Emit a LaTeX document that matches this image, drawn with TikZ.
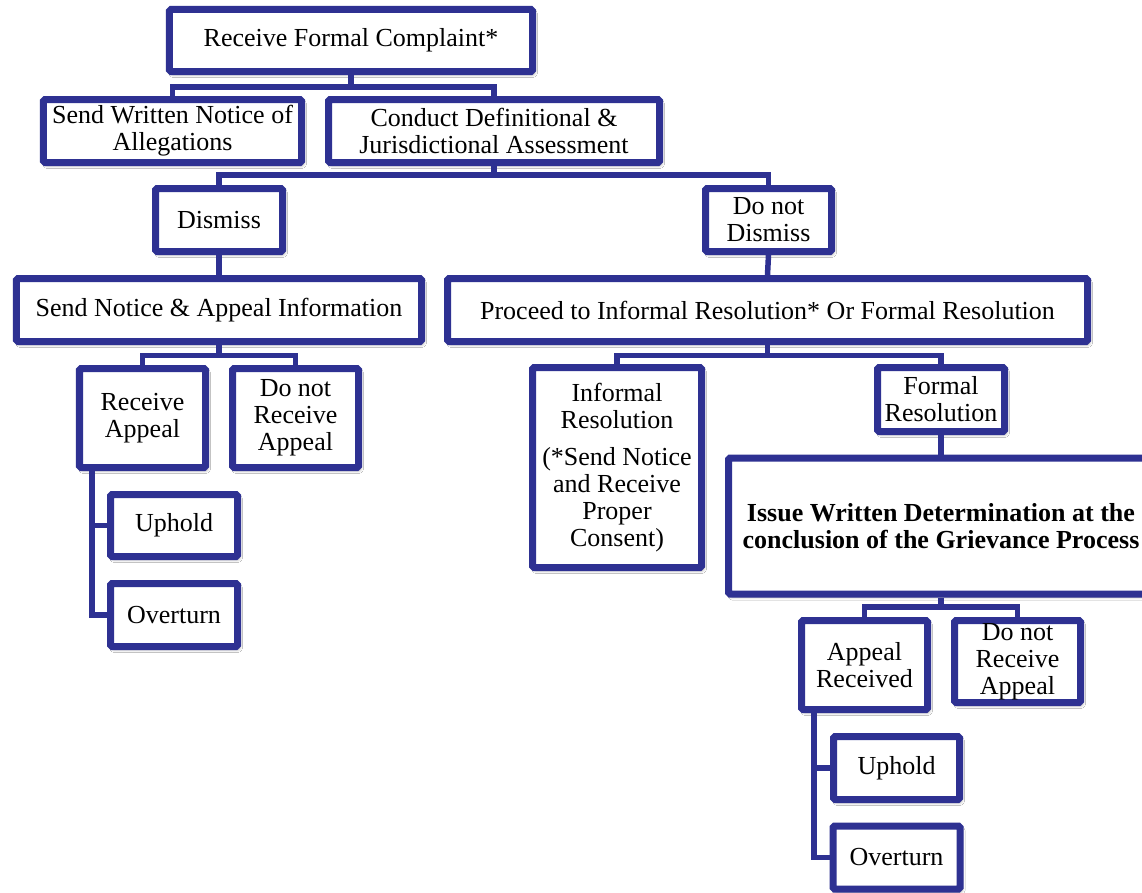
\documentclass[tikz,border=0pt]{standalone}
\usepackage{fontspec}
\setmainfont{Liberation Serif}
\usetikzlibrary{shadows.blur}
\definecolor{navy}{RGB}{46,49,146}
\tikzset{
  box/.style={draw=navy, line width=7bp, fill=white, rounded corners=1.5bp,
    align=center, inner sep=0pt,
    blur shadow={shadow xshift=2bp, shadow yshift=-3bp, shadow blur radius=3bp, shadow opacity=35},
    font=\fontsize{26bp}{27bp}\selectfont},
  conn/.style={draw=navy, line width=5.5bp, line join=miter},
}
\begin{document}
\begin{tikzpicture}[x=1bp, y=-1bp]
\useasboundingbox[fill=white] (0,0) rectangle (1142,893);

% first level
\node[box, minimum width=363bp, minimum height=62bp] (top) at (351,40.5) {Receive Formal Complaint*};
\node[box, minimum width=258bp, minimum height=63bp] (send) at (172.5,131) {Send Written Notice of\\Allegations};
\node[box, minimum width=331bp, minimum height=63bp] (conduct) at (494,131) {Conduct Definitional \&\\Jurisdictional Assessment};

% dismiss / do not dismiss
\node[box, minimum width=127bp, minimum height=63bp] (dismiss) at (219,220) {Dismiss};
\node[box, minimum width=126bp, minimum height=63bp] (keep) at (768.5,220) {Do not\\Dismiss};

% dismiss branch
\node[box, minimum width=405bp, minimum height=63bp] (notice) at (219,310) {Send Notice \& Appeal Information};
\node[box, minimum width=126bp, minimum height=99bp] (recv) at (142.5,418) {Receive\\Appeal};
\node[box, minimum width=126bp, minimum height=99bp] (norecv) at (295.5,418) {Do not\\Receive\\Appeal};
\node[box, minimum width=127bp, minimum height=62bp] (uphold) at (174,525.5) {Uphold};
\node[box, minimum width=127bp, minimum height=63bp] (overturn) at (174,615) {Overturn};

% resolution branch
\node[box, minimum width=640bp, minimum height=63bp] (proceed) at (767.5,310) {Proceed to Informal Resolution* Or Formal Resolution};
\node[box, minimum width=169bp, minimum height=200bp] (informal) at (617,467.5) {Informal\\Resolution\\[10bp](*Send Notice\\and Receive\\Proper\\Consent)};
\node[box, minimum width=127bp, minimum height=64bp] (formal) at (941,399.5) {Formal\\Resolution};
\node[box, minimum width=425bp, minimum height=136bp] (issue) at (941,526) {\bfseries Issue Written Determination at the\\\bfseries conclusion of the Grievance Process};
\node[box, minimum width=126bp, minimum height=89bp] (apprec) at (864.5,665) {Appeal\\Received};
\node[box, minimum width=126bp, minimum height=82bp] (norecvb) at (1017.5,661.5) {Do not\\Receive\\Appeal};
\node[box, minimum width=126bp, minimum height=63bp] (upholdb) at (896.5,768) {Uphold};
\node[box, minimum width=127bp, minimum height=63bp] (overturnb) at (896.5,857.5) {Overturn};

% bar heights and side rails
\coordinate (bara) at (0,87);
\coordinate (barb) at (0,175);
\coordinate (barc) at (0,355.5);
\coordinate (bard) at (0,607);
\coordinate (raila) at (92,0);
\coordinate (railb) at (814,0);

% connectors
\draw[conn] (top.south) -- (top.south |- bara);
\draw[conn] (send.north) -- (send.north |- bara) -- (conduct.north |- bara) -- (conduct.north);

\draw[conn] (conduct.south) -- (conduct.south |- barb);
\draw[conn] (dismiss.north) -- (dismiss.north |- barb) -- (keep.north |- barb) -- (keep.north);

\draw[conn] (dismiss.south) -- (notice.north);
\draw[conn] (keep.south) -- (proceed.north);

\draw[conn] (notice.south) -- (notice.south |- barc);
\draw[conn] (recv.north) -- (recv.north |- barc) -- (norecv.north |- barc) -- (norecv.north);
\draw[conn] (recv.south -| raila) |- (overturn.west);
\draw[conn] (uphold.west -| raila) -- (uphold.west);

\draw[conn] (proceed.south) -- (proceed.south |- barc);
\draw[conn] (informal.north) -- (informal.north |- barc) -- (formal.north |- barc) -- (formal.north);
\draw[conn] (formal.south) -- (issue.north);

\draw[conn] (issue.south) -- (issue.south |- bard);
\draw[conn] (apprec.north) -- (apprec.north |- bard) -- (norecvb.north |- bard) -- (norecvb.north);
\draw[conn] (apprec.south -| railb) |- (overturnb.west);
\draw[conn] (upholdb.west -| railb) -- (upholdb.west);
\end{tikzpicture}
\end{document}
